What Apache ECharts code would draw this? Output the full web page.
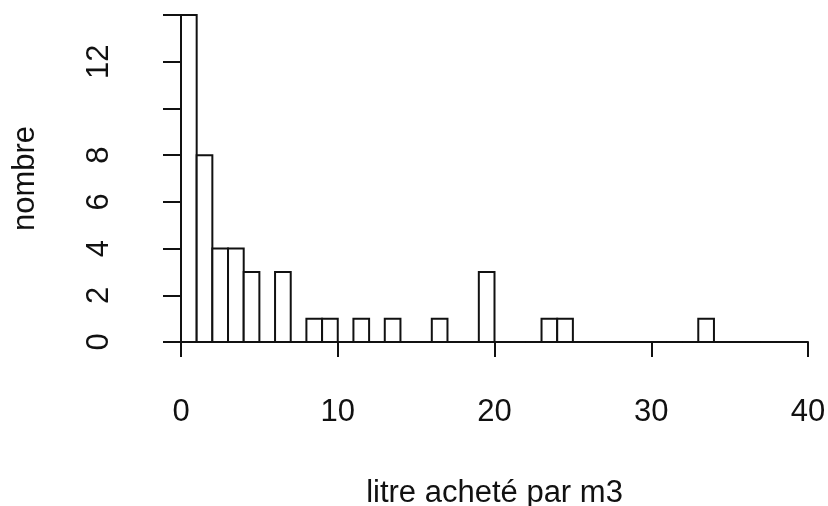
<!DOCTYPE html>
<html>
<head>
<meta charset="utf-8">
<script src="https://cdn.jsdelivr.net/npm/echarts@6/dist/echarts.min.js"></script>
<style>
  html, body { margin: 0; padding: 0; background: #fff; }
  #chart { width: 828px; height: 506px; }
</style>
</head>
<body>
<div id="chart"></div>
<script>
var breaks = [0, 1, 2, 3, 4, 5, 6, 7, 8, 9, 10, 11, 12, 13, 14, 15, 16, 17, 18, 19, 20,
              21, 22, 23, 24, 25, 26, 27, 28, 29, 30, 31, 32, 33, 34, 35, 36, 37, 38, 39, 40];
var counts = [14, 8, 4, 4, 3, 0, 3, 0, 1, 1, 0, 1, 0, 1, 0, 0, 1, 0, 0, 3,
              0, 0, 0, 1, 1, 0, 0, 0, 0, 0, 0, 0, 0, 1, 0, 0, 0, 0, 0, 0];
var xTicks = [0, 10, 20, 30, 40];
var yLabels = [0, 2, 4, 6, 8, 12];

var data = [];
for (var i = 0; i < counts.length; i++) {
    data.push([breaks[i], breaks[i + 1], counts[i]]);
}

var font = "'Liberation Sans', Arial, sans-serif";
var ink = '#111';

var myChart = echarts.init(document.getElementById('chart'));
var option = {
    animation: false,
    backgroundColor: '#fff',
    grid: { left: 181, right: 20, top: 15, bottom: 164, containLabel: false, outerBoundsMode: 'none' },
    xAxis: {
        type: 'value',
        min: xTicks[0],
        max: xTicks[xTicks.length - 1],
        interval: 10,
        offset: 15,
        splitLine: { show: false },
        axisLine: { show: true, lineStyle: { color: ink, width: 2 } },
        axisTick: { show: true, length: 15, lineStyle: { color: ink, width: 2 } },
        axisLabel: { margin: 40, fontSize: 31, color: ink, fontFamily: font },
        name: 'litre acheté par m3',
        nameLocation: 'middle',
        nameGap: 121,
        nameTextStyle: { fontSize: 31, color: ink, fontFamily: font }
    },
    yAxis: {
        type: 'value',
        min: 0,
        max: 14,
        interval: 2,
        offset: 26,
        splitLine: { show: false },
        axisLine: { show: true, lineStyle: { color: ink, width: 2 } },
        axisTick: { show: true, length: 18, lineStyle: { color: ink, width: 2 } },
        axisLabel: {
            rotate: 90,
            margin: 40,
            fontSize: 31,
            color: ink,
            fontFamily: font,
            formatter: function (v) {
                return yLabels.indexOf(v) >= 0 ? String(v) : '';
            }
        },
        name: 'nombre',
        nameLocation: 'middle',
        nameGap: 114,
        nameTextStyle: { fontSize: 31, color: ink, fontFamily: font }
    },
    series: [{
        type: 'custom',
        data: data,
        encode: { x: [0, 1], y: 2 },
        renderItem: function (params, api) {
            var p0 = api.coord([api.value(0), 0]);
            var p1 = api.coord([api.value(1), api.value(2)]);
            return {
                type: 'rect',
                shape: { x: p0[0], y: p1[1], width: p1[0] - p0[0], height: p0[1] - p1[1] },
                style: { fill: '#fff', stroke: ink, lineWidth: 2 }
            };
        }
    }]
};
myChart.setOption(option);
</script>
</body>
</html>
